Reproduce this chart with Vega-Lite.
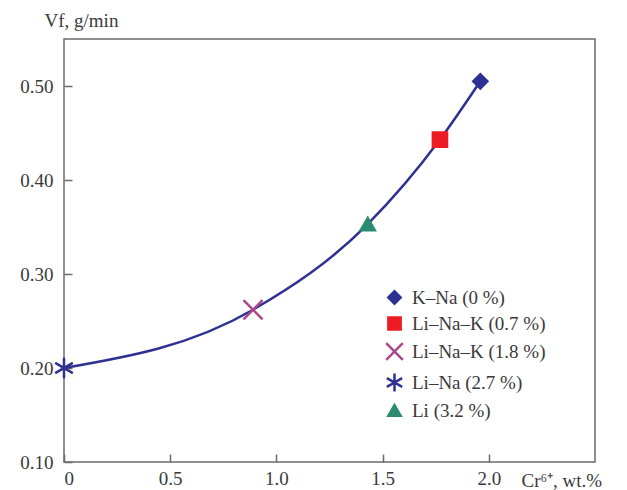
{
  "$schema": "https://vega.github.io/schema/vega-lite/v6.json",
  "width": 531,
  "height": 423,
  "autosize": {"type": "none"},
  "padding": {"left": 64, "top": 39, "right": 32, "bottom": 28},
  "background": "white",
  "config": {
    "view": {"stroke": "#6b6b6b", "strokeWidth": 1.5},
    "font": "Liberation Serif",
    "axis": {
      "domain": false,
      "grid": false,
      "tickColor": "#6b6b6b",
      "tickWidth": 1.5,
      "tickSize": -8,
      "labelFont": "Liberation Serif",
      "labelFontSize": 19,
      "labelColor": "#3a3a3a",
      "titleFont": "Liberation Serif",
      "titleFontSize": 19,
      "titleFontWeight": "normal",
      "titleColor": "#3a3a3a"
    }
  },
  "data": {
    "values": [
      {"x": 1.96, "y": 0.505, "series": "K–Na (0 %)"},
      {"x": 1.77, "y": 0.443, "series": "Li–Na–K (0.7 %)"},
      {"x": 0.89, "y": 0.262, "series": "Li–Na–K (1.8 %)"},
      {"x": 0.0, "y": 0.2, "series": "Li–Na (2.7 %)"},
      {"x": 1.43, "y": 0.353, "series": "Li (3.2 %)"}
    ]
  },
  "encoding": {
    "x": {
      "field": "x", "type": "quantitative",
      "scale": {"domain": [0, 2.5], "nice": false, "zero": false},
      "axis": {
        "values": [0, 0.5, 1, 1.5, 2],
        "labelExpr": "datum.value == 0 ? '0' : format(datum.value, '.1f')",
        "labelPadding": 15,
        "title": "Cr⁶⁺, wt.%",
        "titleX": 457, "titleY": 24,
        "titleAlign": "left", "titleBaseline": "alphabetic"
      }
    },
    "y": {
      "field": "y", "type": "quantitative",
      "scale": {"domain": [0.1, 0.55], "nice": false, "zero": false},
      "axis": {
        "values": [0.1, 0.2, 0.3, 0.4, 0.5],
        "format": ".2f",
        "labelPadding": 19,
        "title": "Vf, g/min",
        "titleAngle": 0,
        "titleX": -20, "titleY": -13,
        "titleAlign": "left", "titleBaseline": "alphabetic"
      }
    }
  },
  "layer": [
    {
      "mark": {"type": "line", "interpolate": "monotone", "color": "#2e3192", "strokeWidth": 2.5},
      "encoding": {"order": {"field": "x", "type": "quantitative"}}
    },
    {
      "mark": {"type": "point", "size": 200, "strokeWidth": 2.5, "opacity": 1},
      "encoding": {
        "shape": {
          "field": "series", "type": "nominal",
          "sort": ["K–Na (0 %)", "Li–Na–K (0.7 %)", "Li–Na–K (1.8 %)", "Li–Na (2.7 %)", "Li (3.2 %)"],
          "scale": {
            "domain": ["K–Na (0 %)", "Li–Na–K (0.7 %)", "Li–Na–K (1.8 %)", "Li–Na (2.7 %)", "Li (3.2 %)"],
            "range": ["diamond", "square", "M-1.35,-1.35L1.35,1.35M-1.35,1.35L1.35,-1.35", "M0,-1.45L0,1.45M-1.25,-0.72L1.25,0.72M-1.25,0.72L1.25,-0.72", "triangle-up"]
          },
          "legend": {
            "title": null,
            "orient": "none",
            "legendX": 321,
            "legendY": 249,
            "labelFont": "Liberation Serif",
            "labelFontSize": 19,
            "labelColor": "#3a3a3a",
            "rowPadding": 3,
            "symbolSize": 150,
            "symbolStrokeWidth": 2.5,
            "symbolOpacity": 1,
            "labelOffset": 8
          }
        },
        "fill": {
          "field": "series", "type": "nominal",
          "scale": {
            "domain": ["K–Na (0 %)", "Li–Na–K (0.7 %)", "Li–Na–K (1.8 %)", "Li–Na (2.7 %)", "Li (3.2 %)"],
            "range": ["#2e3192", "#ed1c24", "transparent", "transparent", "#2a8a72"]
          },
          "legend": {"title": null}
        },
        "stroke": {
          "field": "series", "type": "nominal",
          "scale": {
            "domain": ["K–Na (0 %)", "Li–Na–K (0.7 %)", "Li–Na–K (1.8 %)", "Li–Na (2.7 %)", "Li (3.2 %)"],
            "range": ["#2e3192", "#ed1c24", "#a8488a", "#2e3192", "#2a8a72"]
          },
          "legend": {"title": null}
        }
      }
    }
  ]
}
